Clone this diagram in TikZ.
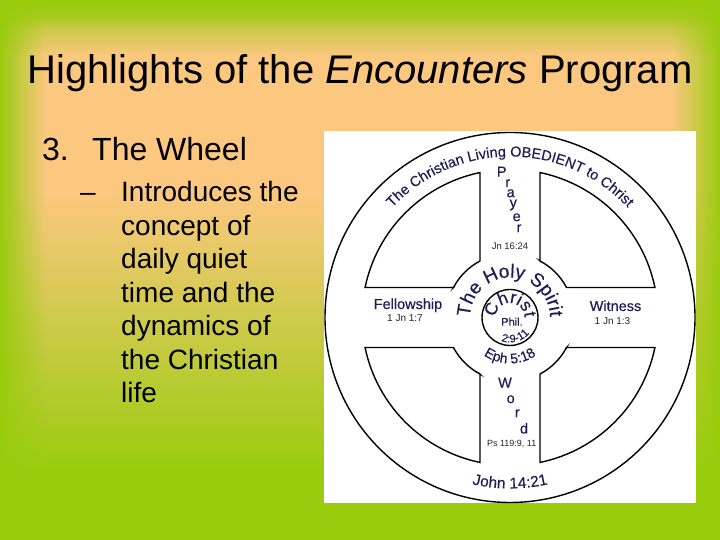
\documentclass[tikz,border=0pt]{standalone}
\usepackage{fontspec}
\setmainfont{Liberation Sans}
\newfontfamily\wf[FakeBold=0.35]{Liberation Sans}
\usetikzlibrary{fadings,decorations.text}
\definecolor{bggreen}{RGB}{154,204,14}
\definecolor{peach}{RGB}{252,200,128}
\definecolor{navy}{RGB}{30,30,85}
\tikzfading[name=fadeR, left color=transparent!0, right color=transparent!100]
\tikzfading[name=fadeL, left color=transparent!100, right color=transparent!0]
\tikzfading[name=fadeD, top color=transparent!0, bottom color=transparent!100]
\begin{document}
\begin{tikzpicture}[x=1pt,y=1pt,
  wl/.style={draw=black, line width=1.4pt},
  lvlone/.style={anchor=base west, inner sep=0pt, font=\fontsize{32}{38}\selectfont},
  lvltwo/.style={anchor=base west, inner sep=0pt, font=\fontsize{28}{33.6}\selectfont},
  wtxt/.style={inner sep=0pt, text=navy},
  big/.style={wtxt, font=\wf\fontsize{14.5}{16}\selectfont},
  small/.style={inner sep=0pt, text=black!85, font=\fontsize{9.5}{11}\selectfont},
  lett/.style={wtxt, font=\wf\fontsize{14.5}{16}\selectfont},
  arctext/.style={decorate, decoration={text along path, text align=center, text color=navy, text={#1}}}]
\useasboundingbox (0,0) rectangle (720,540);
% background
\fill[bggreen] (0,0) rectangle (720,540);
\fill[peach] (0,350) rectangle (720,540);
\shade[top color=peach, bottom color=bggreen] (0,70) rectangle (720,350.5);
\fill[bggreen, path fading=fadeR] (0,0) rectangle (45,540);
\fill[bggreen, path fading=fadeL] (672,0) rectangle (720,540);
\fill[bggreen, path fading=fadeD] (0,484) rectangle (720,540);
\fill[bggreen, path fading=fadeD] (0,512) rectangle (720,540);
% title and bullets
\node[anchor=base, inner sep=0pt, font=\fontsize{40}{48}\selectfont] (title) at (360,456) {Highlights of the \textit{Encounters} Program};
\node[lvlone] (num) at (42,379) {3.};
\node[lvlone] (head) at (92,379) {The Wheel};
\node[lvltwo] (dash) at (80,338) {–};
\node[lvltwo] (l1) at (121,338) {Introduces the};
\node[lvltwo] (l2) at (121,304.5) {concept of};
\node[lvltwo] (l3) at (121,271) {daily quiet};
\node[lvltwo] (l4) at (121,237.5) {time and the};
\node[lvltwo] (l5) at (121,204) {dynamics of};
\node[lvltwo] (l6) at (121,170.5) {the Christian};
\node[lvltwo] (l7) at (121,137) {life};
% picture box
\fill[white] (324,37) rectangle (696,409);
\begin{scope}[shift={(510,222.5)}]
  \draw[wl] (0,0) circle[radius=185pt];
  \foreach \a in {0,90,180,270}
    \draw[wl, rotate=\a] (30,56.53) -- (30,144.93)
      arc[start angle=78.31, end angle=11.69, radius=148pt]
      -- (56.53,30) arc[start angle=27.95, end angle=62.05, radius=64pt] -- cycle;
  \draw[wl] (0,0) circle[radius=28pt];
  % arc texts
  \path[arctext={|\wf\fontsize{14.5}{16}\selectfont|The Christian Living OBEDIENT to Christ}]
    (180:161) arc[start angle=180, end angle=0, radius=161pt];
  \path[arctext={|\wf\fontsize{15.5}{17}\selectfont|John 14:21}]
    (220:171) arc[start angle=220, end angle=320, radius=171pt];
  \path[arctext={|\wf\fontsize{19}{21}\selectfont|The Holy Spirit}]
    (200:40) arc[start angle=200, end angle=-20, radius=40pt];
  \path[arctext={|\wf\fontsize{17.5}{19}\selectfont|Christ}]
    (215:14.5) arc[start angle=215, end angle=-35, radius=14.5pt];
  \path[arctext={|\wf\fontsize{11}{13}\selectfont|2:9-11}]
    (215:25) arc[start angle=215, end angle=355, radius=25pt];
  \path[arctext={|\wf\fontsize{14}{16}\selectfont|Eph 5:18}]
    (200:46) arc[start angle=200, end angle=340, radius=46pt];
  \node[wtxt, font=\wf\fontsize{11}{13}\selectfont] (phil) at (2,-4.2) {Phil.};
  % Prayer
  \node[lett] (p1) at (-8.3,145.8) {P};
  \node[lett] (p2) at (-2.3,134.2) {r};
  \node[lett] (p3) at (0.7,124.2) {a};
  \node[lett] (p4) at (3.3,112.5) {y};
  \node[lett] (p5) at (6.7,100.2) {e};
  \node[lett] (p6) at (9,89.2) {r};
  \node[small] (jn) at (0,70.8) {Jn 16:24};
  % Word
  \node[lett] (w1) at (-5,-65.2) {W};
  \node[lett] (w2) at (0.7,-81.8) {o};
  \node[lett] (w3) at (7.3,-95.8) {r};
  \node[lett] (w4) at (14,-110.8) {d};
  \node[small, font=\fontsize{9}{11}\selectfont] (ps) at (1.7,-126.5) {Ps 119:9, 11};
  % Fellowship / Witness
  \node[big, anchor=base] (fel) at (-102,8.5) {Fellowship};
  \node[small, anchor=base, font=\fontsize{10}{12}\selectfont] (fref) at (-105,-4.2) {1 Jn 1:7};
  \node[big, anchor=base] (wit) at (105.5,6.5) {Witness};
  \node[small, anchor=base, font=\fontsize{10}{12}\selectfont] (wref) at (102.5,-7.5) {1 Jn 1:3};
\end{scope}
\end{tikzpicture}
\end{document}
